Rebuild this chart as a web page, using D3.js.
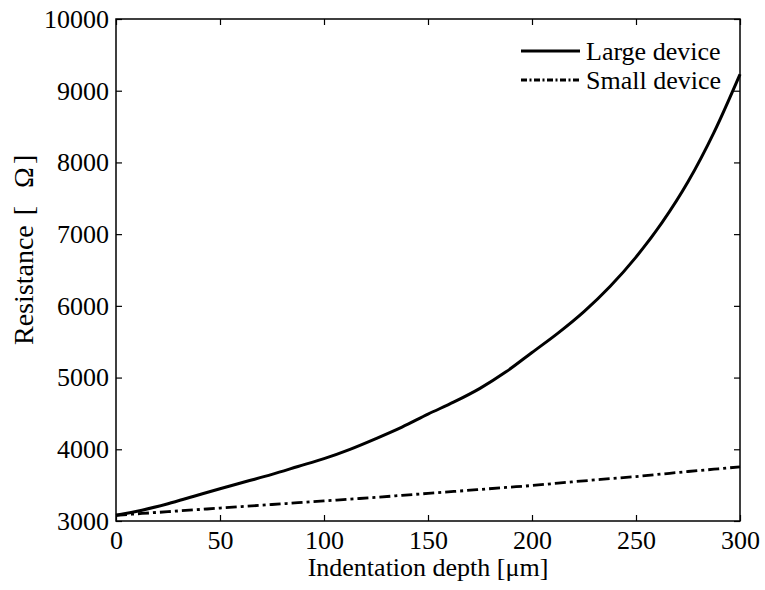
<!DOCTYPE html>
<html>
<head>
<meta charset="utf-8">
<script src="https://cdn.jsdelivr.net/npm/d3@7"></script>
<style>
  body { margin: 0; background: #fff; }
  text { font-family: "Liberation Serif", "Times New Roman", serif; fill: #000; }
</style>
</head>
<body>
<div id="chart"></div>
<script>
// depth in micrometres
const depth = [0, 12.5, 25, 37.5, 50, 62.5, 75, 87.5, 100, 112.5, 125, 137.5, 150, 162.5, 175, 187.5, 200, 212.5, 225, 237.5, 250, 262.5, 275, 287.5, 300];
// resistance in ohms
const largeDevice = [3080, 3150, 3240, 3345, 3450, 3550, 3650, 3760, 3870, 4000, 4150, 4310, 4490, 4660, 4850, 5080, 5350, 5620, 5920, 6270, 6680, 7160, 7730, 8420, 9230];
const smallDevice = [3080, 3105, 3130, 3155, 3180, 3205, 3230, 3255, 3280, 3305, 3330, 3358, 3385, 3412, 3440, 3468, 3495, 3528, 3560, 3590, 3620, 3655, 3690, 3722, 3755];
const xTicks = [0, 50, 100, 150, 200, 250, 300];
const yTicks = [3000, 4000, 5000, 6000, 7000, 8000, 9000, 10000];
const seriesNames = ["Large device", "Small device"];

const W = 765, H = 590;
const margin = {top: 19, right: 25, bottom: 69, left: 116};
const width = W - margin.left - margin.right;
const height = H - margin.top - margin.bottom;

const svg = d3.select("#chart").append("svg")
    .attr("width", W)
    .attr("height", H);

const g = svg.append("g")
    .attr("transform", `translate(${margin.left},${margin.top})`);

const x = d3.scaleLinear().domain([0, 300]).range([0, width]);
const y = d3.scaleLinear().domain([3000, 10000]).range([height, 0]);

const fontSize = 26;
const tickLen = 6;

// axes (ticks point inward, box on)
const axisStyle = sel => {
    sel.select(".domain").remove();
    sel.selectAll(".tick line").attr("stroke", "#000").attr("stroke-width", 1.2);
    sel.selectAll("text").style("font-family", "Liberation Serif").style("font-size", fontSize + "px");
};

g.append("g")
    .attr("transform", `translate(0,${height})`)
    .call(d3.axisBottom(x).tickValues(xTicks).tickSize(-tickLen).tickPadding(10).tickFormat(d3.format("d")))
    .call(axisStyle);

g.append("g")
    .call(d3.axisTop(x).tickValues(xTicks).tickSize(-tickLen).tickFormat(""))
    .call(axisStyle);

g.append("g")
    .call(d3.axisLeft(y).tickValues(yTicks).tickSize(-tickLen).tickPadding(7).tickFormat(d3.format("d")))
    .call(axisStyle);

g.append("g")
    .attr("transform", `translate(${width},0)`)
    .call(d3.axisRight(y).tickValues(yTicks).tickSize(-tickLen).tickFormat(""))
    .call(axisStyle);

g.append("rect")
    .attr("width", width)
    .attr("height", height)
    .attr("fill", "none")
    .attr("stroke", "#000")
    .attr("stroke-width", 1.5);

// lines
const line = d3.line()
    .x((d, i) => x(depth[i]))
    .y(d => y(d))
    .curve(d3.curveMonotoneX);

g.append("path")
    .datum(largeDevice)
    .attr("d", line)
    .attr("fill", "none")
    .attr("stroke", "#000")
    .attr("stroke-width", 3);

g.append("path")
    .datum(smallDevice)
    .attr("d", line)
    .attr("fill", "none")
    .attr("stroke", "#000")
    .attr("stroke-width", 2.8)
    .attr("stroke-dasharray", "11,4,3,4");

// legend
const legend = svg.append("g");
const dashes = [null, "6,2.5,2,2.5"];
const legendY = [51, 80];
seriesNames.forEach((name, i) => {
    legend.append("line")
        .attr("x1", 521).attr("x2", 580)
        .attr("y1", legendY[i]).attr("y2", legendY[i])
        .attr("stroke", "#000")
        .attr("stroke-width", 2.8)
        .attr("stroke-dasharray", dashes[i]);
    legend.append("text")
        .attr("x", 586)
        .attr("y", legendY[i] + 8.5)
        .style("font-size", fontSize + "px")
        .text(name);
});

// axis labels
svg.append("text")
    .attr("x", margin.left + width / 2)
    .attr("y", 576)
    .attr("text-anchor", "middle")
    .style("font-size", fontSize + "px")
    .text("Indentation depth [\u03bcm]");

const yLabel = svg.append("text")
    .attr("transform", "translate(33,345) rotate(-90)")
    .style("font-size", "28px");
yLabel.append("tspan").text("Resistance");
yLabel.append("tspan").attr("dx", 10).text("[");
yLabel.append("tspan").attr("dx", 18).text("\u03a9");
yLabel.append("tspan").attr("dx", 3).text("]");
</script>
</body>
</html>
